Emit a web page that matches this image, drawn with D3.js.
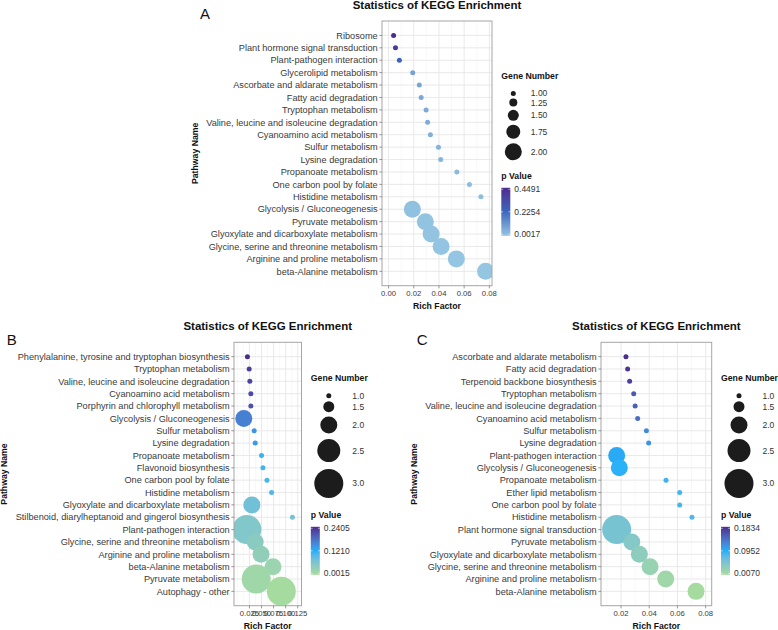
<!DOCTYPE html>
<html>
<head>
<meta charset="utf-8">
<script src="https://cdn.jsdelivr.net/npm/d3@7"></script>
<style>
body { margin: 0; background: #fff; }
text { font-family: "Liberation Sans", Arial, sans-serif; }
</style>
</head>
<body>
<script>
// ---- panel A data ----
var pathwaysA = ["Ribosome", "Plant hormone signal transduction", "Plant-pathogen interaction",
    "Glycerolipid metabolism", "Ascorbate and aldarate metabolism", "Fatty acid degradation",
    "Tryptophan metabolism", "Valine, leucine and isoleucine degradation", "Cyanoamino acid metabolism",
    "Sulfur metabolism", "Lysine degradation", "Propanoate metabolism", "One carbon pool by folate",
    "Histidine metabolism", "Glycolysis / Gluconeogenesis", "Pyruvate metabolism",
    "Glyoxylate and dicarboxylate metabolism", "Glycine, serine and threonine metabolism",
    "Arginine and proline metabolism", "beta-Alanine metabolism"];
var richA = [0.0040, 0.0055, 0.0086, 0.0192, 0.0244, 0.0259, 0.0298, 0.0310, 0.0332, 0.0396,
    0.0414, 0.0542, 0.0642, 0.0733, 0.0189, 0.0292, 0.0338, 0.0417, 0.0538, 0.0770];
var genesA = [1, 1, 1, 1, 1, 1, 1, 1, 1, 1, 1, 1, 1, 1, 2, 2, 2, 2, 2, 2];
var pvalA = [0.4491, 0.40, 0.24, 0.085, 0.075, 0.07, 0.065, 0.06, 0.055, 0.045,
    0.04, 0.03, 0.025, 0.02, 0.012, 0.008, 0.006, 0.004, 0.003, 0.0017];
var ticksA = [0, 0.02, 0.04, 0.06, 0.08];
var tickLabelsA = ["0.00", "0.02", "0.04", "0.06", "0.08"];
var geneBreaksA = [1, 1.25, 1.5, 1.75, 2];
var geneLabelsA = ["1.00", "1.25", "1.50", "1.75", "2.00"];

// ---- panel B data ----
var pathwaysB = ["Phenylalanine, tyrosine and tryptophan biosynthesis", "Tryptophan metabolism",
    "Valine, leucine and isoleucine degradation", "Cyanoamino acid metabolism",
    "Porphyrin and chlorophyll metabolism", "Glycolysis / Gluconeogenesis", "Sulfur metabolism",
    "Lysine degradation", "Propanoate metabolism", "Flavonoid biosynthesis", "One carbon pool by folate",
    "Histidine metabolism", "Glyoxylate and dicarboxylate metabolism",
    "Stilbenoid, diarylheptanoid and gingerol biosynthesis", "Plant-pathogen interaction",
    "Glycine, serine and threonine metabolism", "Arginine and proline metabolism",
    "beta-Alanine metabolism", "Pyruvate metabolism", "Autophagy - other"];
var richB = [0.0208, 0.0244, 0.0258, 0.0279, 0.0279, 0.0133, 0.0348, 0.0369, 0.0500, 0.0529,
    0.0613, 0.0708, 0.0300, 0.1140, 0.0196, 0.0369, 0.0490, 0.0737, 0.0390, 0.0910];
var genesB = [1, 1, 1, 1, 1, 2, 1, 1, 1, 1, 1, 1, 2, 1, 3, 2, 2, 2, 3, 3];
var pvalB = [0.2405, 0.225, 0.22, 0.215, 0.21, 0.165, 0.145, 0.14, 0.115, 0.11,
    0.105, 0.10, 0.075, 0.07, 0.055, 0.045, 0.035, 0.02, 0.012, 0.0015];
var ticksB = [0.025, 0.05, 0.075, 0.1, 0.125];
var tickLabelsB = ["0.025", "0.050", "0.075", "0.100", "0.125"];

// ---- panel C data ----
var pathwaysC = ["Ascorbate and aldarate metabolism", "Fatty acid degradation",
    "Terpenoid backbone biosynthesis", "Tryptophan metabolism",
    "Valine, leucine and isoleucine degradation", "Cyanoamino acid metabolism", "Sulfur metabolism",
    "Lysine degradation", "Plant-pathogen interaction", "Glycolysis / Gluconeogenesis",
    "Propanoate metabolism", "Ether lipid metabolism", "One carbon pool by folate",
    "Histidine metabolism", "Plant hormone signal transduction", "Pyruvate metabolism",
    "Glyoxylate and dicarboxylate metabolism", "Glycine, serine and threonine metabolism",
    "Arginine and proline metabolism", "beta-Alanine metabolism"];
var richC = [0.0235, 0.0247, 0.0261, 0.0290, 0.0300, 0.0318, 0.0380, 0.0396, 0.0169, 0.0188,
    0.0519, 0.0616, 0.0616, 0.0703, 0.0169, 0.0276, 0.0330, 0.0406, 0.0517, 0.0732];
var genesC = [1, 1, 1, 1, 1, 1, 1, 1, 2, 2, 1, 1, 1, 1, 3, 2, 2, 2, 2, 2];
var pvalC = [0.1834, 0.178, 0.17, 0.155, 0.15, 0.14, 0.12, 0.115, 0.10, 0.093,
    0.088, 0.085, 0.085, 0.08, 0.055, 0.045, 0.035, 0.025, 0.015, 0.0070];
var ticksC = [0.02, 0.04, 0.06, 0.08];
var tickLabelsC = ["0.02", "0.04", "0.06", "0.08"];

var geneBreaksBC = [1, 1.5, 2, 2.5, 3];
var geneLabelsBC = ["1.0", "1.5", "2.0", "2.5", "3.0"];

var width = 778,
    height = 630;

var svg = d3.select("body").append("svg")
    .attr("width", width)
    .attr("height", height);

var defs = svg.append("defs");

// same radius mapping in every panel
var rScale = d3.scaleLinear().domain([1, 3]).range([2.5, 14.5]);

function keyH(v) {
    return 2.45 * rScale(v) + 1.1;
}

function drawPanel(p) {
    var g = svg.append("g").attr("id", "panel" + p.letter);

    var x = d3.scaleLinear().domain(p.xDomain).range([p.left, p.right]);
    var y = d3.scalePoint().domain(p.names).range([p.top, p.bottom]).padding(1.16);

    var pMin = d3.min(p.pval), pMax = d3.max(p.pval), pMid = (pMin + pMax) / 2;
    var color = d3.scaleLinear()
        .domain([pMin, pMid, pMax])
        .range(p.colors)
        .interpolate(d3.interpolateLab);

    var data = p.names.map(function (n, i) {
        return {name: n, rich: p.rich[i], genes: p.genes[i], pval: p.pval[i]};
    });

    // grid
    var step = p.ticks[1] - p.ticks[0];
    var minor = d3.range(Math.floor(p.xDomain[0] / (step / 2)), Math.ceil(p.xDomain[1] / (step / 2)) + 1)
        .map(function (k) { return k * step / 2; })
        .filter(function (v) {
            return v > p.xDomain[0] && v < p.xDomain[1] &&
                !p.ticks.some(function (t) { return Math.abs(t - v) < 1e-9; });
        });

    g.selectAll(".minor").data(minor).enter().append("line")
        .attr("x1", function (d) { return x(d); })
        .attr("x2", function (d) { return x(d); })
        .attr("y1", p.top).attr("y2", p.bottom)
        .attr("stroke", "#f1f1f1").attr("stroke-width", 0.5);

    g.selectAll(".vmajor").data(p.ticks).enter().append("line")
        .attr("x1", function (d) { return x(d); })
        .attr("x2", function (d) { return x(d); })
        .attr("y1", p.top).attr("y2", p.bottom)
        .attr("stroke", "#e6e6e6").attr("stroke-width", 0.9);

    g.selectAll(".hmajor").data(p.names).enter().append("line")
        .attr("x1", p.left).attr("x2", p.right)
        .attr("y1", function (d) { return y(d); })
        .attr("y2", function (d) { return y(d); })
        .attr("stroke", "#e6e6e6").attr("stroke-width", 0.9);

    // points, clipped to the panel
    defs.append("clipPath").attr("id", "clip" + p.letter)
        .append("rect")
        .attr("x", p.left).attr("y", p.top)
        .attr("width", p.right - p.left).attr("height", p.bottom - p.top);

    g.append("g").attr("clip-path", "url(#clip" + p.letter + ")")
        .selectAll("circle").data(data).enter().append("circle")
        .attr("cx", function (d) { return x(d.rich); })
        .attr("cy", function (d) { return y(d.name); })
        .attr("r", function (d) { return rScale(d.genes); })
        .attr("fill", function (d) { return color(d.pval); });

    g.append("rect")
        .attr("x", p.left).attr("y", p.top)
        .attr("width", p.right - p.left).attr("height", p.bottom - p.top)
        .attr("fill", "none").attr("stroke", "#a6a6a6").attr("stroke-width", 1);

    // y axis
    g.selectAll(".ytick").data(p.names).enter().append("line")
        .attr("x1", p.left - 2.7).attr("x2", p.left)
        .attr("y1", function (d) { return y(d); })
        .attr("y2", function (d) { return y(d); })
        .attr("stroke", "#555").attr("stroke-width", 0.6);

    var ylab = g.selectAll(".ylab").data(p.names).enter().append("text")
        .attr("x", p.left - 4.3)
        .attr("y", function (d) { return y(d); })
        .attr("dy", "0.35em")
        .attr("text-anchor", "end")
        .attr("font-size", "9.2px")
        .attr("fill", "#3a3a3a")
        .text(function (d) { return d; });

    var minLeft = d3.min(ylab.nodes(), function (n) { return n.getBBox().x; });

    g.append("text")
        .attr("transform", "translate(" + (minLeft - 11.5) + "," + ((p.top + p.bottom) / 2) + ") rotate(-90)")
        .attr("dy", "0.35em")
        .attr("text-anchor", "middle")
        .attr("font-size", "8.7px")
        .attr("font-weight", "bold")
        .attr("fill", "#111")
        .text("Pathway Name");

    // x axis
    g.selectAll(".xtick").data(p.ticks).enter().append("line")
        .attr("x1", function (d) { return x(d); })
        .attr("x2", function (d) { return x(d); })
        .attr("y1", p.bottom).attr("y2", p.bottom + 2.7)
        .attr("stroke", "#555").attr("stroke-width", 0.6);

    g.selectAll(".xlab").data(p.ticks).enter().append("text")
        .attr("x", function (d) { return x(d); })
        .attr("y", p.bottom + 9.9)
        .attr("text-anchor", "middle")
        .attr("font-size", "7.7px")
        .attr("fill", "#3a3a3a")
        .text(function (d, i) { return p.tickLabels[i]; });

    g.append("text")
        .attr("x", (p.left + p.right) / 2)
        .attr("y", p.bottom + 23)
        .attr("text-anchor", "middle")
        .attr("font-size", "8.7px")
        .attr("font-weight", "bold")
        .attr("fill", "#111")
        .text("Rich Factor");

    // title and panel letter
    g.append("text")
        .attr("x", (p.left + p.right) / 2)
        .attr("y", p.top - 12)
        .attr("text-anchor", "middle")
        .attr("font-size", "11.5px")
        .attr("font-weight", "bold")
        .attr("fill", "#111")
        .text("Statistics of KEGG Enrichment");

    g.append("text")
        .attr("x", p.letterX)
        .attr("y", p.letterY)
        .attr("font-family", "'Liberation Serif', 'Times New Roman', serif")
        .attr("font-size", "15px")
        .attr("fill", "#111")
        .text(p.letter);

    // legends
    var lx = p.right + 9.3;
    var rMax = rScale(d3.max(p.geneBreaks));
    var keyW = 2 * rMax + 7;
    var centers = [], c = 0;
    p.geneBreaks.forEach(function (v, i) {
        if (i === 0) c = 17.6;
        else c += (keyH(p.geneBreaks[i - 1]) + keyH(v)) / 2;
        centers.push(c);
    });
    var pTitleOff = centers[centers.length - 1] + keyH(p.geneBreaks[p.geneBreaks.length - 1]) / 2 + 13;
    var blockH = pTitleOff + 60 + 5;
    var y0 = (p.top + p.bottom) / 2 - blockH / 2 + 5;

    var lg = g.append("g");
    lg.append("text")
        .attr("x", lx).attr("y", y0).attr("dy", "0.35em")
        .attr("font-size", "8.7px").attr("font-weight", "bold").attr("fill", "#111")
        .text("Gene Number");

    lg.selectAll(".gkey").data(p.geneBreaks).enter().append("circle")
        .attr("cx", lx + keyW / 2)
        .attr("cy", function (d, i) { return y0 + centers[i]; })
        .attr("r", function (d) { return rScale(d); })
        .attr("fill", "#1c1c1c");

    lg.selectAll(".glab").data(p.geneBreaks).enter().append("text")
        .attr("x", lx + keyW + 5.5)
        .attr("y", function (d, i) { return y0 + centers[i]; })
        .attr("dy", "0.35em")
        .attr("font-size", "8.5px").attr("fill", "#333")
        .text(function (d, i) { return p.geneLabels[i]; });

    var pt = y0 + pTitleOff;
    lg.append("text")
        .attr("x", lx).attr("y", pt).attr("dy", "0.35em")
        .attr("font-size", "8.7px").attr("font-weight", "bold").attr("fill", "#111")
        .text("p Value");

    var grad = defs.append("linearGradient").attr("id", "grad" + p.letter)
        .attr("x1", 0).attr("y1", 1).attr("x2", 0).attr("y2", 0);
    d3.range(0, 1.0001, 0.05).forEach(function (t) {
        grad.append("stop").attr("offset", t).attr("stop-color", color(pMin + t * (pMax - pMin)));
    });

    var barTop = pt + 12, barH = 48, barW = 9;
    lg.append("rect")
        .attr("x", lx).attr("y", barTop)
        .attr("width", barW).attr("height", barH)
        .attr("fill", "url(#grad" + p.letter + ")");

    var cb = d3.scaleLinear().domain([pMin, pMax]).range([barTop + barH - 1.5, barTop + 1.5]);
    var fmt = d3.format(".4f");
    [pMin, pMid, pMax].forEach(function (v) {
        lg.append("line").attr("x1", lx).attr("x2", lx + 1.8)
            .attr("y1", cb(v)).attr("y2", cb(v)).attr("stroke", "#fff").attr("stroke-width", 0.6);
        lg.append("line").attr("x1", lx + barW - 1.8).attr("x2", lx + barW)
            .attr("y1", cb(v)).attr("y2", cb(v)).attr("stroke", "#fff").attr("stroke-width", 0.6);
        lg.append("text")
            .attr("x", lx + 13).attr("y", cb(v)).attr("dy", "0.35em")
            .attr("font-size", "8.5px").attr("fill", "#333")
            .text(fmt(v));
    });
}

drawPanel({
    letter: "A", letterX: 200, letterY: 19,
    left: 382, right: 492, top: 21, bottom: 285.7,
    xDomain: [-0.0052, 0.0821],
    names: pathwaysA, rich: richA, genes: genesA, pval: pvalA,
    ticks: ticksA, tickLabels: tickLabelsA,
    geneBreaks: geneBreaksA, geneLabels: geneLabelsA,
    colors: ["#94c6e2", "#3a68bd", "#4d2a8e"]
});

drawPanel({
    letter: "B", letterX: 6.7, letterY: 345,
    left: 234, right: 301.5, top: 342.3, bottom: 605.7,
    xDomain: [-0.007, 0.1328],
    names: pathwaysB, rich: richB, genes: genesB, pval: pvalB,
    ticks: ticksB, tickLabels: tickLabelsB,
    geneBreaks: geneBreaksBC, geneLabels: geneLabelsBC,
    colors: ["#a6db9f", "#1eb0fa", "#4b2c8f"]
});

drawPanel({
    letter: "C", letterX: 416.7, letterY: 345,
    left: 601, right: 711.7, top: 342.3, bottom: 605.7,
    xDomain: [0.0058, 0.0843],
    names: pathwaysC, rich: richC, genes: genesC, pval: pvalC,
    ticks: ticksC, tickLabels: tickLabelsC,
    geneBreaks: geneBreaksBC, geneLabels: geneLabelsBC,
    colors: ["#a6db9f", "#1eb0fa", "#4b2c8f"]
});
</script>
</body>
</html>
